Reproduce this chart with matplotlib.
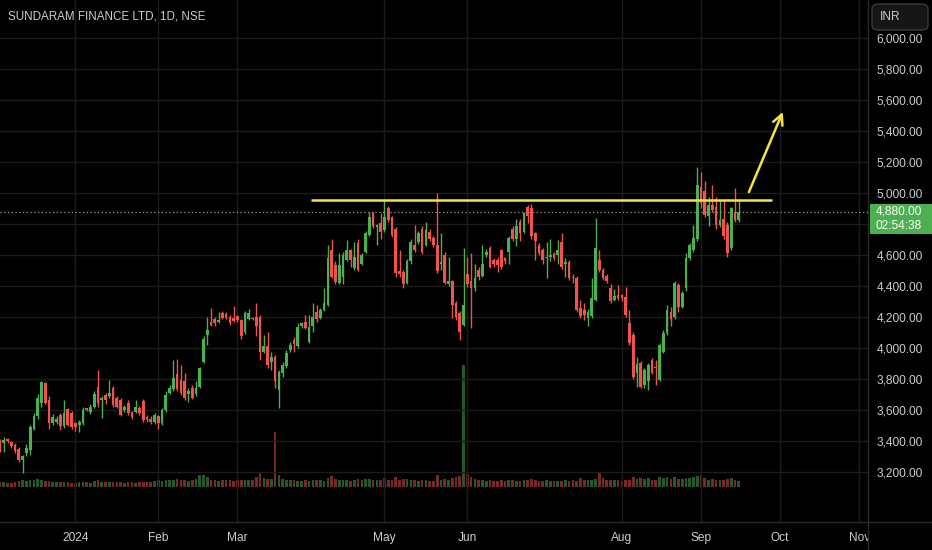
import matplotlib
matplotlib.use("Agg")
import matplotlib.pyplot as plt
from matplotlib.patches import Rectangle, FancyBboxPatch
from matplotlib.lines import Line2D
from matplotlib.ticker import FuncFormatter
from matplotlib.transforms import Bbox, TransformedBbox
import numpy as np

plt.rcParams['font.family'] = ['Liberation Sans', 'DejaVu Sans']

# ---------------- data ----------------
title = "SUNDARAM FINANCE LTD, 1D, NSE"
currency = "INR"

opens = [3395, 3385, 3410, 3395, 3375, 3350, 3280, 3320, 3345, 3480,
         3560, 3645, 3775, 3665, 3515, 3525, 3570, 3495, 3605, 3580,
         3515, 3505, 3515, 3610, 3590, 3620, 3750, 3665, 3700, 3690,
         3740, 3675, 3665, 3600,
         3645, 3585, 3590, 3610, 3655, 3555, 3545, 3525, 3560, 3515,
         3600, 3712, 3735, 3830, 3795, 3785, 3700, 3740, 3700, 3750,
         3910, 4085, 4170, 4185, 4170, 4225, 4220, 4200, 4195, 4205,
         4180, 4105,
         4190, 4195, 4200, 4200, 3975, 4010, 3910, 3945, 3730, 3840,
         3885, 3985, 4050, 4010, 4140, 4165, 4040, 4140, 4230, 4195,
         4245, 4280, 4630, 4535, 4420, 4460, 4570, 4630, 4515, 4675,
         4545, 4620,
         4730, 4870, 4780, 4805, 4760, 4900, 4845, 4770, 4495, 4490,
         4420, 4560, 4665, 4685, 4770, 4665, 4750, 4710, 4665, 4540,
         4600, 4412, 4430, 4290, 4225, 4150, 4480, 4430, 4385, 4505,
         4465, 4600, 4645,
         4565, 4570, 4630, 4580, 4620, 4770, 4700, 4815, 4750, 4910,
         4900, 4740, 4665, 4630, 4580, 4590, 4605, 4600, 4685, 4545,
         4555, 4460, 4450, 4255, 4245, 4195, 4205, 4310, 4570, 4505,
         4465, 4385, 4310,
         4340, 4340, 4330, 4160, 4085, 3840, 3900, 3760, 3785, 3925,
         3880, 3795, 3975, 4095, 4235, 4200, 4405, 4265, 4385, 4580,
         4630, 4700, 5040, 5010, 4850, 4925, 4910, 4795, 4835, 4795,
         4645, 4880, 4825]

highs = [3410, 3425, 3420, 3400, 3385, 3360, 3310, 3380, 3500, 3580,
         3700, 3790, 3780, 3690, 3575, 3560, 3580, 3665, 3615, 3595,
         3525, 3535, 3620, 3615, 3640, 3725, 3860, 3690, 3710, 3795,
         3755, 3690, 3680, 3635,
         3665, 3595, 3665, 3625, 3670, 3565, 3560, 3580, 3570, 3610,
         3720, 3760, 3925, 3930, 3890, 3840, 3740, 3760, 3790, 3880,
         4075, 4200, 4255, 4200, 4235, 4240, 4230, 4210, 4270, 4215,
         4190, 4240,
         4250, 4200, 4290, 4215, 4085, 4105, 3975, 3955, 3860, 3910,
         3985, 4040, 4070, 4160, 4170, 4215, 4215, 4290, 4280, 4255,
         4385, 4665, 4700, 4560, 4610, 4620, 4695, 4640, 4685, 4700,
         4610, 4755,
         4880, 4880, 4800, 4870, 4955, 4915, 4850, 4780, 4630, 4500,
         4575, 4700, 4795, 4755, 4785, 4815, 4765, 4720, 5000, 4740,
         4620, 4590, 4440, 4300, 4240, 4645, 4590, 4610, 4545, 4520,
         4665, 4640, 4660,
         4580, 4585, 4640, 4590, 4720, 4790, 4830, 4830, 4880, 4925,
         4930, 4750, 4680, 4645, 4685, 4700, 4620, 4695, 4740, 4580,
         4570, 4475, 4465, 4310, 4290, 4250, 4450, 4840, 4630, 4515,
         4475, 4410, 4380,
         4405, 4350, 4395, 4245, 4105, 3945, 3915, 3870, 3905, 3935,
         3925, 4030, 4115, 4280, 4265, 4430, 4420, 4370, 4610, 4680,
         4795, 5170, 5135, 5075, 4975, 5050, 4975, 4950, 4955, 4810,
         4910, 5030, 4960]

lows = [3330, 3330, 3390, 3355, 3320, 3265, 3195, 3300, 3310, 3470,
        3540, 3620, 3640, 3475, 3505, 3510, 3470, 3485, 3495, 3480,
        3465, 3460, 3505, 3595, 3575, 3610, 3620, 3550, 3640, 3680,
        3620, 3610, 3560, 3590,
        3570, 3540, 3580, 3570, 3520, 3525, 3510, 3510, 3480, 3505,
        3590, 3700, 3725, 3720, 3695, 3665, 3650, 3670, 3690, 3740,
        3900, 4020, 4140, 4140, 4160, 4185, 4185, 4150, 4165, 4170,
        4060, 4090,
        4180, 4180, 4075, 3925, 3965, 3870, 3860, 3745, 3615, 3810,
        3870, 3975, 3975, 4000, 4130, 4120, 4030, 4105, 4170, 4185,
        4240, 4270, 4450, 4415, 4410, 4410, 4560, 4520, 4505, 4495,
        4535, 4610,
        4720, 4775, 4665, 4700, 4750, 4815, 4715, 4460, 4460, 4385,
        4410, 4545, 4620, 4670, 4605, 4655, 4690, 4650, 4485, 4505,
        4410, 4400, 4195, 4180, 4050, 4140, 4395, 4130, 4370, 4440,
        4455, 4590, 4515,
        4520, 4490, 4510, 4540, 4545, 4690, 4655, 4690, 4740, 4805,
        4705, 4570, 4600, 4545, 4450, 4560, 4565, 4540, 4510, 4455,
        4440, 4420, 4230, 4195, 4180, 4140, 4195, 4300, 4490, 4440,
        4420, 4290, 4300,
        4310, 4305, 4200, 4020, 3800, 3750, 3740, 3745, 3730, 3830,
        3760, 3785, 3965, 4085, 4140, 4190, 4235, 4255, 4365, 4570,
        4620, 4690, 4900, 4845, 4785, 4880, 4770, 4780, 4705, 4590,
        4630, 4815, 4815]

closes = [3350, 3405, 3400, 3370, 3335, 3280, 3300, 3355, 3490, 3560,
          3675, 3780, 3645, 3515, 3555, 3540, 3495, 3580, 3505, 3490,
          3490, 3525, 3600, 3600, 3620, 3705, 3645, 3675, 3665, 3710,
          3635, 3620, 3570, 3620,
          3580, 3555, 3620, 3580, 3535, 3540, 3525, 3565, 3515, 3600,
          3695, 3740, 3805, 3735, 3710, 3680, 3720, 3680, 3745, 3870,
          4060, 4115, 4150, 4160, 4182, 4195, 4195, 4160, 4175, 4180,
          4075, 4225,
          4225, 4190, 4140, 3975, 4010, 3890, 3940, 3785, 3845, 3890,
          3970, 4020, 4025, 4135, 4160, 4130, 4135, 4200, 4190, 4245,
          4290, 4580, 4460, 4425, 4535, 4600, 4630, 4570, 4590, 4505,
          4600, 4740,
          4845, 4785, 4795, 4750, 4845, 4825, 4730, 4485, 4475, 4410,
          4560, 4685, 4635, 4740, 4620, 4760, 4700, 4665, 4495, 4555,
          4420, 4432, 4280, 4200, 4105, 4280, 4410, 4385, 4450, 4460,
          4540, 4620, 4525,
          4545, 4535, 4525, 4560, 4710, 4700, 4785, 4740, 4870, 4850,
          4720, 4690, 4610, 4570, 4590, 4600, 4580, 4630, 4525, 4555,
          4450, 4450, 4245, 4205, 4215, 4235, 4320, 4645, 4505, 4450,
          4430, 4300, 4335,
          4320, 4320, 4215, 4030, 3815, 3900, 3750, 3860, 3890, 3840,
          3870, 4020, 4095, 4245, 4190, 4420, 4265, 4355, 4580, 4665,
          4710, 5050, 4935, 4860, 4925, 4890, 4795, 4825, 4720, 4610,
          4900, 4825, 4880]

# volume in thousands of shares
volumes = [30, 28, 22, 25, 30, 35, 40, 38, 45, 40,
           50, 45, 38, 35, 30, 28, 32, 30, 28, 26,
           25, 30, 32, 28, 26, 35, 45, 30, 28, 30,
           32, 28, 30, 25,
           28, 30, 26, 28, 32, 30, 28, 35, 40, 38,
           42, 40, 45, 50, 45, 40, 38, 42, 48, 70,
           75, 60, 45, 40, 38, 42, 40, 45, 38, 40,
           45, 42,
           40, 45, 60, 85, 55, 50, 48, 330, 70, 50,
           45, 40, 42, 38, 35, 40, 38, 42, 45, 40,
           38, 55, 65, 50, 45, 42, 40, 38, 45, 50,
           42, 48,
           50, 45, 40, 42, 55, 45, 40, 60, 45, 50,
           48, 42, 40, 38, 42, 40, 36, 38, 70, 45,
           50, 40, 55, 60, 65, 730, 80, 60, 50, 40,
           42, 38, 40,
           35, 38, 40, 36, 42, 40, 38, 36, 45, 40,
           50, 42, 38, 36, 40, 35, 34, 36, 38, 45,
           36, 40, 38, 55, 45, 42, 40, 50, 90, 55,
           45, 40, 42,
           40, 38, 42, 45, 60, 50, 55, 48, 52, 45,
           40, 60, 55, 58, 50, 62, 50, 48, 55, 52,
           58, 65, 70, 55, 45, 48, 40, 45, 42, 50,
           55, 45, 35]

month_labels = ["2024", "Feb", "Mar", "May", "Jun", "Aug", "Sep", "Oct", "Nov"]
month_bars = [20, 42, 63, 102, 124, 165, 186, 207, 228]
price_ticks = list(range(3200, 6001, 200))
last_price = 4880
countdown = "02:54:38"

# drawings
resistance_level = 4955
resistance_bars = [82.5, 204.8]
arrow_from = (198.7, 5006)
arrow_to = (207.7, 5523)

# ---------------- layout ----------------
W, H = 932, 550
PANE_R, PANE_B = 868, 522
BAR_PX = 3.769
PX_PER_200 = 31.0
Y5000 = 193.0

def price_at(y_px):
    return 5000 + (Y5000 - y_px) * 200.0 / PX_PER_200

BG = "#000000"
GRID = "#1c1c1c"
UP = "#4caf50"
DOWN = "#ef5350"
TXT = "#c9ccd3"
YEL = "#f3e53c"

fig = plt.figure(figsize=(W / 100, H / 100), dpi=100, facecolor=BG)
rect = [0, (H - PANE_B) / H, PANE_R / W, PANE_B / H]

# volume overlay
axv = fig.add_axes(rect, zorder=0)
axv.set_facecolor(BG)
n = len(closes)
x = np.arange(n)
o = np.array(opens, float)
c = np.array(closes, float)
hi = np.array(highs, float)
lo = np.array(lows, float)
up = c >= o
cols = np.where(up, UP, DOWN)
k = 6.0  # thousands per pixel
axv.set_ylim(-(PANE_B - 487) * k, 487 * k)
axv.set_xlim(0, PANE_R / BAR_PX)
axv.bar(x, volumes, width=0.7, color=cols, alpha=0.5, linewidth=0)
axv.axis("off")

ax = fig.add_axes(rect, zorder=1)
ax.patch.set_alpha(0)
ax.set_xlim(0, PANE_R / BAR_PX)
ax.set_ylim(price_at(PANE_B), price_at(0))

ax.set_yticks(price_ticks)
ax.set_xticks(month_bars)
ax.set_xticklabels(month_labels)
ax.yaxis.tick_right()
ax.yaxis.set_major_formatter(FuncFormatter(lambda v, p: f"{v:,.2f}"))
ax.tick_params(axis="y", length=0, pad=6, labelsize=8.6, labelcolor=TXT)
ax.tick_params(axis="x", length=0, pad=7, labelsize=8.6, labelcolor=TXT)
ax.grid(True, color=GRID, linewidth=1)
ax.set_axisbelow(True)
for s in ax.spines.values():
    s.set_visible(False)

# clip time labels at the price scale edge (like "No" in the source)
clip = TransformedBbox(Bbox([[0, 0], [PANE_R / W, 1]]), fig.transFigure)
for lbl in ax.get_xticklabels():
    lbl.set_clip_box(clip)
    lbl.set_clip_on(True)

# candles
ax.vlines(x, lo, hi, colors=cols, linewidth=1, zorder=2)
body_h = np.maximum(np.abs(c - o), 4)
ax.bar(x, body_h, bottom=np.minimum(o, c), width=0.72, color=cols,
       linewidth=0, zorder=3)

# last price dotted line
ax.axhline(last_price, color="#9a9a9a", linewidth=0.9, linestyle=(0, (1, 2)),
           zorder=1)

# resistance line and arrow
ax.hlines(resistance_level, resistance_bars[0], resistance_bars[1],
          color=YEL, linewidth=1.8, zorder=4)
ax.annotate("", xy=arrow_to, xytext=arrow_from,
            arrowprops=dict(arrowstyle="->", color=YEL, lw=1.8,
                            mutation_scale=18, shrinkA=0, shrinkB=0),
            zorder=4)

# separators
fig.add_artist(Line2D([PANE_R / W, PANE_R / W], [0, 1], color="#2a2a2a",
                      linewidth=1))
fig.add_artist(Line2D([0, 1], [(H - PANE_B) / H, (H - PANE_B) / H],
                      color="#2a2a2a", linewidth=1))

# title
fig.text(8 / W, 1 - 16.5 / H, title, color=TXT, fontsize=8.4, va="center",
         ha="left")

# currency box
fig.patches.append(FancyBboxPatch((872 / W, 1 - 30 / H), 56 / W, 26 / H,
                                  boxstyle="round,pad=0,rounding_size=0.008",
                                  transform=fig.transFigure,
                                  facecolor="#161616", edgecolor="#3a3a3a",
                                  linewidth=1, zorder=5))
fig.text(880 / W, 1 - 17.5 / H, currency, color=TXT, fontsize=8.6,
         va="center", ha="left", zorder=6)

# last price box
fig.patches.append(Rectangle((870 / W, 1 - 234 / H), 62 / W, 30 / H,
                             transform=fig.transFigure, facecolor=UP,
                             edgecolor="none", zorder=5))
fig.text(876 / W, 1 - 211.5 / H, f"{last_price:,.2f}", color="white",
         fontsize=8.6, va="center", ha="left", zorder=6)
fig.text(876 / W, 1 - 226 / H, countdown, color="white",
         fontsize=8.6, va="center", ha="left", zorder=6)

fig.savefig("out.png", dpi=100, facecolor=BG)
